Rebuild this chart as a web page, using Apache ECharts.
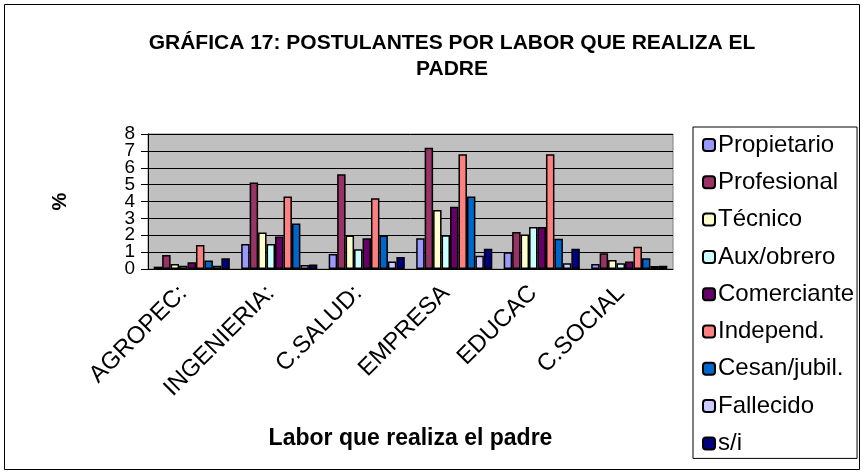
<!DOCTYPE html>
<html>
<head>
<meta charset="utf-8">
<script src="https://cdn.jsdelivr.net/npm/echarts@6/dist/echarts.min.js"></script>
<style>
  html, body { margin: 0; padding: 0; background: #fff; }
  #chart { width: 864px; height: 474px; }
</style>
</head>
<body>
<div id="chart"></div>
<script>
// categorias del eje X
const categorias = ['AGROPEC:', 'INGENIERIA:', 'C.SALUD:', 'EMPRESA', 'EDUCAC', 'C.SOCIAL']

// valores (%) por labor del padre
const propietario = [0.14, 1.48, 0.89, 1.82, 0.99, 0.30]
const profesional = [0.83, 5.12, 5.61, 7.19, 2.19, 0.93]
const tecnico     = [0.30, 2.17, 1.98, 3.50, 2.05, 0.53]
const auxObrero   = [0.20, 1.48, 1.17, 2.00, 2.49, 0.34]
const comerciante = [0.40, 1.92, 1.82, 3.69, 2.49, 0.45]
const independ    = [1.42, 4.29, 4.19, 6.80, 6.80, 1.32]
const cesanJubil  = [0.50, 2.69, 1.98, 4.29, 1.80, 0.63]
const fallecido   = [0.20, 0.24, 0.45, 0.79, 0.34, 0.18]
const sinInfo     = [0.63, 0.27, 0.71, 1.20, 1.20, 0.20]

const series = [
  { name: 'Propietario', data: propietario, color: '#9999FF' },
  { name: 'Profesional', data: profesional, color: '#993366' },
  { name: 'Técnico', data: tecnico, color: '#FFFFCC' },
  { name: 'Aux/obrero', data: auxObrero, color: '#CCFFFF' },
  { name: 'Comerciante', data: comerciante, color: '#660066' },
  { name: 'Independ.', data: independ, color: '#FF8080' },
  { name: 'Cesan/jubil.', data: cesanJubil, color: '#0066CC' },
  { name: 'Fallecido', data: fallecido, color: '#CCCCFF' },
  { name: 's/i', data: sinInfo, color: '#000080' }
]

// las etiquetas del eje Y se solapan en el original: se reparten en dos ejes (pares / impares)
const yLabel = { fontSize: 19, color: '#000', margin: 13, showMinLabel: true, showMaxLabel: true, hideOverlap: false }

const chart = echarts.init(document.getElementById('chart'))
chart.setOption({
  animation: false,
  textStyle: { fontFamily: 'Liberation Sans, Arial, sans-serif' },
  title: {
    text: 'GRÁFICA 17: POSTULANTES POR LABOR QUE REALIZA EL\nPADRE',
    left: 447,
    top: 25,
    textAlign: 'center',
    textStyle: { fontSize: 21, fontWeight: 'bold', color: '#000', lineHeight: 26 }
  },
  legend: {
    orient: 'vertical',
    left: 693,
    top: 127,
    padding: [6, 3, 3, 9],
    itemWidth: 12,
    itemHeight: 12,
    itemGap: 13.3,
    borderColor: '#000',
    borderWidth: 1,
    textStyle: { fontSize: 24, color: '#000', lineHeight: 24, padding: [0, 0, 0, -2] },
    data: series.map(s => s.name)
  },
  grid: { left: 148, right: 191, top: 134, bottom: 205, show: true, backgroundColor: '#C0C0C0', borderColor: '#808080', borderWidth: 1 },
  xAxis: {
    type: 'category',
    data: categorias,
    name: 'Labor que realiza el padre',
    nameLocation: 'middle',
    nameGap: 158,
    nameTextStyle: { fontSize: 23, fontWeight: 'bold', color: '#000' },
    axisLine: { lineStyle: { color: '#000', width: 1 } },
    axisTick: { length: 6, lineStyle: { color: '#000' } },
    axisLabel: { rotate: 45, fontSize: 24, color: '#000', margin: 12, padding: [0, 12, 0, 0], interval: 0 }
  },
  yAxis: [
    {
      type: 'value',
      min: 0,
      max: 8,
      interval: 1,
      name: '%',
      nameLocation: 'middle',
      nameGap: 78,
      nameTextStyle: { fontSize: 20, fontWeight: 'bold', color: '#000' },
      axisLine: { show: true, lineStyle: { color: '#000' } },
      axisTick: { show: true, length: 7, lineStyle: { color: '#000' } },
      axisLabel: Object.assign({}, yLabel, { formatter: v => (v % 2 === 0 ? String(v) : '') }),
      splitLine: { lineStyle: { color: '#000', width: 1 } }
    },
    {
      type: 'value',
      min: 0,
      max: 8,
      interval: 1,
      position: 'left',
      offset: 0,
      axisLine: { show: false },
      axisTick: { show: false },
      axisLabel: Object.assign({}, yLabel, { formatter: v => (v % 2 === 1 ? String(v) : '') }),
      splitLine: { show: false }
    }
  ],
  series: series.map(s => ({
    name: s.name,
    type: 'bar',
    data: s.data,
    barGap: '0%',
    barCategoryGap: '13%',
    itemStyle: { color: s.color, borderColor: '#000', borderWidth: 1.5 }
  })),
  graphic: [{
    type: 'rect',
    shape: { x: 4.5, y: 4.5, width: 855, height: 465 },
    style: { fill: null, stroke: '#000', lineWidth: 1 }
  }]
})
</script>
</body>
</html>
